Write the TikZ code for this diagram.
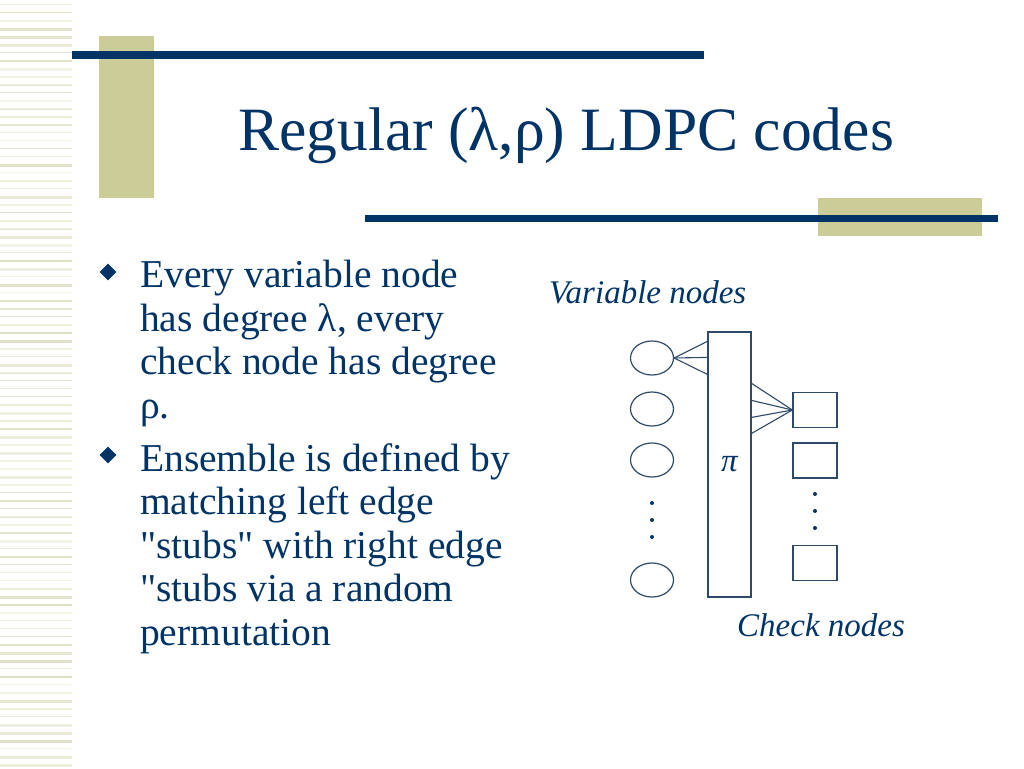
\documentclass[tikz,border=0pt]{standalone}
\usepackage{fontspec}
\setmainfont{Liberation Serif}
\usetikzlibrary{shapes.geometric}
\definecolor{navy}{HTML}{003366}
\definecolor{khaki}{HTML}{CCCC99}
\definecolor{stripe}{HTML}{D8D8B4}
\definecolor{wire}{HTML}{2E4A6A}

\tikzset{
  varnode/.style={draw=wire, line width=1.2pt, ellipse, minimum width=43pt, minimum height=34pt, inner sep=0pt},
  chknode/.style={draw=wire, line width=1.2pt, rectangle, minimum width=44pt, minimum height=35pt, inner sep=0pt},
  stub/.style={draw=wire, line width=1.1pt},
  bulletmark/.style={diamond, fill=navy, minimum size=17pt, inner sep=0pt},
  bodytext/.style={anchor=north west, inner sep=0pt, text=navy, align=left, font=\fontsize{39.5}{43.5}\selectfont},
  smalllabel/.style={anchor=base west, inner sep=0pt, text=navy, font=\fontsize{33}{36}\selectfont\itshape},
  vdot/.style={circle, fill=navy, minimum size=4pt, inner sep=0pt},
}

\begin{document}
\begin{tikzpicture}[x=1pt, y=-1pt]
\useasboundingbox (0,0) rectangle (1024,768);
% striped margin
\pgfmathsetseed{42}
\foreach \i in {0,...,95}{
  \pgfmathsetmacro\sw{0.8+2.6*rnd}
  \pgfmathsetmacro\sop{25+55*rnd}
  \fill[stripe!\sop] (0,\i*8+4) rectangle ++(72,\sw);
}
% title decoration
\fill[khaki] (99,36) rectangle (154,198);
\fill[khaki] (818,198) rectangle (982,236);
\fill[navy] (72,51) rectangle (704,59);
\fill[navy] (365,215) rectangle (998,222);
\node[anchor=base, inner sep=0pt, text=navy, font=\fontsize{61.6}{70}\selectfont] (title) at (566,150) {Regular (λ,ρ) LDPC codes};

% bullets
\node[bulletmark] (b1) at (108,272) {};
\node[bodytext] (t1) at (140,260) {Every variable node\\has degree λ, every\\check node has degree\\ρ.};
\node[bulletmark] (b2) at (108,455) {};
\node[bodytext] (t2) at (140,443) {Ensemble is defined by\\matching left edge\\\textquotedbl stubs\textquotedbl{} with right edge\\\textquotedbl stubs via a random\\permutation};

% graph
\node[smalllabel] (varlabel) at (549,303) {Variable nodes};
\node[smalllabel] (chklabel) at (737,636) {Check nodes};
\node[draw=wire, line width=1.2pt, minimum width=43pt, minimum height=265pt, inner sep=0pt,
      text=navy, font=\fontsize{33}{36}\selectfont\itshape] (pi) at (729.5,464.5) {π};
\node[varnode] (v1) at (652,358) {};
\node[varnode] (v2) at (652,409) {};
\node[varnode] (v3) at (652,460) {};
\node[varnode] (v4) at (652,580) {};
\foreach \y [count=\k] in {503,520,537}
  \node[vdot] (vd\k) at (652,\y) {};
\node[chknode] (c1) at (815,410) {};
\node[chknode] (c2) at (815,460.5) {};
\node[chknode] (c3) at (815,563) {};
\foreach \y [count=\k] in {494,511,528}
  \node[vdot] (cd\k) at (815,\y) {};
% edge stubs
\foreach \dy in {10,26,43}
  \draw[stub] (v1.east) -- ([yshift=-\dy pt]pi.north west);
\foreach \dy in {52,69,86,102}
  \draw[stub] (c1.west) -- ([yshift=-\dy pt]pi.north east);
\end{tikzpicture}
\end{document}
